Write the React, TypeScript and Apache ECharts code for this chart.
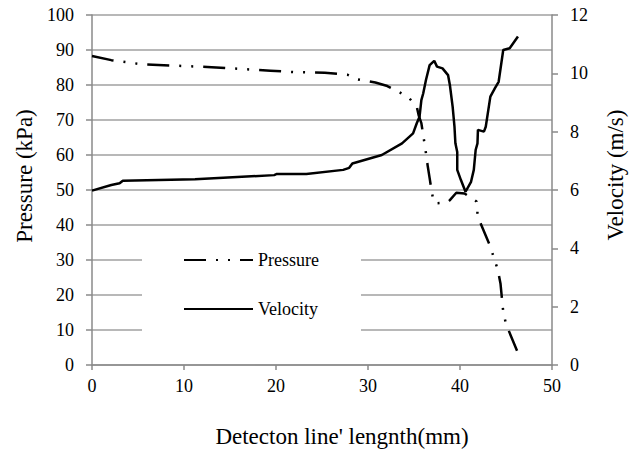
import React, { useEffect, useRef } from "react";
import * as echarts from "echarts";

// Pressure (kPa) vs detection line length (mm)
const pressureX = [0, 2.1, 5.5, 13, 19.4, 21.9, 25.3, 27.8, 28.9, 30.8, 32.1, 33.3, 34.4, 35.3, 35.5, 35.8, 36.0, 36.2, 36.5, 36.7, 36.9, 37.1, 37.25, 38.6, 38.9, 39.6, 40.5, 41.8, 41.9, 42.2, 43.3, 43.7, 44.1, 44.4, 44.7, 45.0, 46.2];
const pressureY = [88.3, 87.1, 85.9, 85.1, 84.1, 83.7, 83.5, 82.9, 81.6, 80.7, 79.7, 78.1, 76.5, 73.8, 71.4, 69.1, 65.7, 62.4, 56.7, 53.4, 50.0, 47.0, 46.2, 46.4, 47.1, 49.2, 49.0, 46.7, 43.4, 40.7, 33.8, 30.5, 27.3, 23.3, 15.2, 11.7, 4.1];

// Velocity (m/s) vs detection line length (mm)
const velocityX = [0, 2.1, 3.0, 3.35, 11.2, 19.8, 20.1, 23.3, 27.3, 27.96, 28.3, 31.5, 33.7, 34.9, 35.3, 35.6, 35.8, 36.0, 36.3, 36.7, 37.2, 37.5, 38.1, 38.7, 38.9, 39.2, 39.4, 39.5, 39.7, 39.7, 40.1, 40.6, 41.2, 41.5, 41.7, 41.9, 41.95, 42.6, 42.8, 43.3, 43.8, 44.2, 44.7, 45.4, 46.3];
const velocityY = [5.98, 6.17, 6.23, 6.32, 6.37, 6.51, 6.55, 6.55, 6.69, 6.76, 6.91, 7.2, 7.6, 7.94, 8.29, 8.51, 9.08, 9.31, 9.77, 10.28, 10.43, 10.23, 10.17, 9.94, 9.6, 8.86, 8.17, 7.6, 7.3, 6.69, 6.34, 5.94, 6.28, 6.69, 7.37, 7.6, 8.06, 8.0, 8.17, 9.2, 9.49, 9.71, 10.8, 10.86, 11.26];

const seriesNames = ["Pressure", "Velocity"];
const xAxisTitle = "Detecton line' lengnth(mm)";
const leftAxisTitle = "Pressure (kPa)";
const rightAxisTitle = "Velocity (m/s)";

const FONT = "Liberation Serif";
const GRID_COLOR = "#a0a0a0";
const AXIS_COLOR = "#8a8a8a";

export default function App() {
  const ref = useRef<HTMLDivElement>(null);
  useEffect(() => {
    document.body.style.margin = "0";
    if (!ref.current) return;
    const chart = echarts.init(ref.current, undefined, { renderer: "svg" });
    const pressureData = pressureX.map((x, i) => [x, pressureY[i]]);
    const velocityData = velocityX.map((x, i) => [x, velocityY[i]]);
    chart.setOption({
      animation: false,
      backgroundColor: "#ffffff",
      textStyle: { fontFamily: FONT },
      grid: { left: 92, right: 76, top: 15, bottom: 89, containLabel: false },
      legend: {
        data: seriesNames,
        orient: "vertical",
        left: 142,
        top: 238,
        padding: [12, 42, 26, 41],
        itemWidth: 69,
        itemHeight: 20,
        itemGap: 29,
        backgroundColor: "#ffffff",
        itemStyle: { color: "transparent", borderColor: "transparent", borderWidth: 0, opacity: 0 },
        textStyle: { fontFamily: FONT, fontSize: 18, color: "#000", lineHeight: 20 },
      },
      xAxis: {
        type: "value",
        min: 0,
        max: 50,
        interval: 10,
        name: xAxisTitle,
        nameLocation: "middle",
        nameGap: 60,
        nameTextStyle: { fontFamily: FONT, fontSize: 23, color: "#000", padding: [0, 0, 0, 40] },
        axisLine: { show: true, lineStyle: { color: AXIS_COLOR, width: 1.5 } },
        axisTick: { show: true, inside: false, length: 5, lineStyle: { color: AXIS_COLOR, width: 1.5 } },
        axisLabel: { fontFamily: FONT, fontSize: 18, color: "#000", margin: 12 },
        splitLine: { show: false },
      },
      yAxis: [
        {
          type: "value",
          position: "left",
          min: 0,
          max: 100,
          interval: 10,
          name: leftAxisTitle,
          nameLocation: "middle",
          nameRotate: 90,
          nameGap: 54,
          nameTextStyle: { fontFamily: FONT, fontSize: 23, color: "#000", padding: [0, 0, 0, 28] },
          axisLine: { show: true, lineStyle: { color: AXIS_COLOR, width: 1.5 } },
          axisTick: { show: true, inside: false, length: 6, lineStyle: { color: AXIS_COLOR, width: 1.5 } },
          axisLabel: { fontFamily: FONT, fontSize: 18, color: "#000", margin: 18 },
          splitLine: { show: true, lineStyle: { color: GRID_COLOR, width: 1.5 } },
        },
        {
          type: "value",
          position: "right",
          min: 0,
          max: 12,
          interval: 2,
          name: rightAxisTitle,
          nameLocation: "middle",
          nameRotate: 90,
          nameGap: 52,
          nameTextStyle: { fontFamily: FONT, fontSize: 23, color: "#000", padding: [0, 0, 0, 30] },
          axisLine: { show: true, lineStyle: { color: AXIS_COLOR, width: 1.5 } },
          axisTick: { show: true, inside: false, length: 6, lineStyle: { color: AXIS_COLOR, width: 1.5 } },
          axisLabel: { fontFamily: FONT, fontSize: 18, color: "#000", margin: 18 },
          splitLine: { show: false },
        },
      ],
      series: [
        {
          name: seriesNames[0],
          type: "line",
          yAxisIndex: 0,
          data: pressureData,
          symbol: "none",
          smooth: false,
          color: "#000",
          lineStyle: { color: "#000", width: 2.5, type: [22, 10, 2, 10, 2, 10] },
        },
        {
          name: seriesNames[1],
          type: "line",
          yAxisIndex: 1,
          data: velocityData,
          symbol: "none",
          smooth: false,
          color: "#000",
          lineStyle: { color: "#000", width: 2.5, type: "solid" },
        },
      ],
    });
    return () => chart.dispose();
  }, []);
  return <div ref={ref} style={{ width: 635, height: 454 }} />;
}
